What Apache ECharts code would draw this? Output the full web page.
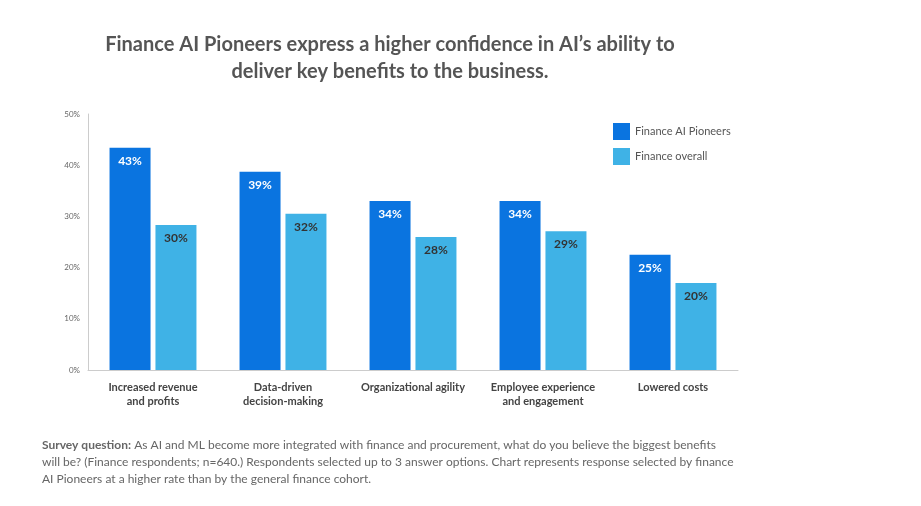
<!DOCTYPE html>
<html>
<head>
<meta charset="utf-8">
<script src="https://cdn.jsdelivr.net/npm/echarts@6/dist/echarts.min.js"></script>
<style>html,body{margin:0;background:#fff}#main{width:921px;height:506px}</style>
</head>
<body>
<div id="main"></div>
<script>
// категории и значения (высоты столбцов по картинке, подписи — как на графике)
const categories = ['Increased revenue\nand profits', 'Data-driven\ndecision-making', 'Organizational agility', 'Employee experience\nand engagement', 'Lowered costs'];
const pioneers = [43.4, 38.7, 33.0, 33.0, 22.5];
const overall = [28.3, 30.5, 26.0, 27.1, 17.0];
const pioneersLabels = ['43%', '39%', '34%', '34%', '25%'];
const overallLabels = ['30%', '32%', '28%', '29%', '20%'];
const seriesNames = ['Finance AI Pioneers', 'Finance overall'];

const font = 'Lato, "Open Sans", sans-serif';
let chart = echarts.init(document.getElementById('main'));
chart.setOption({
    textStyle: {fontFamily: font},
    title: [{
        text: 'Finance AI Pioneers express a higher confidence in AI\u2019s ability to\ndeliver key benefits to the business.',
        left: 385, top: 26, textAlign: 'center',
        textStyle: {fontSize: 20, fontWeight: 'bold', color: '#555', lineHeight: 27, fontFamily: font}
    }, {
        text: '{b|Survey question:} As AI and ML become more integrated with finance and procurement, what do you believe the biggest benefits\nwill be? (Finance respondents; n=640.) Respondents selected up to 3 answer options. Chart represents response selected by finance\nAI Pioneers at a higher rate than by the general finance cohort.',
        left: 37, top: 432,
        textStyle: {fontSize: 12, fontWeight: 'normal', color: '#666', lineHeight: 17, fontFamily: font,
            rich: {b: {fontWeight: 'bold', fontSize: 12, color: '#666', fontFamily: font}}}
    }],
    legend: {
        orient: 'vertical', left: 608, top: 118, itemGap: 8,
        itemWidth: 17, itemHeight: 17, icon: 'rect',
        textStyle: {fontSize: 11, color: '#555'}
    },
    grid: {left: 88, right: 183, top: 114, bottom: 136},
    xAxis: {
        type: 'category', data: categories,
        axisTick: {show: false},
        axisLine: {lineStyle: {color: '#ccc'}},
        axisLabel: {fontSize: 11, fontWeight: 'bold', color: '#444', lineHeight: 14, margin: 10, interval: 0}
    },
    yAxis: {
        type: 'value', min: 0, max: 50, interval: 10,
        axisLine: {show: true, lineStyle: {color: '#ccc'}},
        splitLine: {show: false},
        axisLabel: {fontSize: 8, color: '#666', formatter: '{value}%'}
    },
    series: [{
        name: seriesNames[0], type: 'bar', data: pioneers,
        barWidth: 41, barGap: '12%',
        itemStyle: {color: '#0a74e0'},
        label: {show: true, position: 'insideTop', distance: 7, color: '#fff', fontSize: 12, fontWeight: 'bold',
            formatter: p => pioneersLabels[p.dataIndex]}
    }, {
        name: seriesNames[1], type: 'bar', data: overall,
        barWidth: 41,
        itemStyle: {color: '#3fb2e6'},
        label: {show: true, position: 'insideTop', distance: 7, color: '#333', fontSize: 12, fontWeight: 'bold',
            formatter: p => overallLabels[p.dataIndex]}
    }]
});
</script>
</body>
</html>
